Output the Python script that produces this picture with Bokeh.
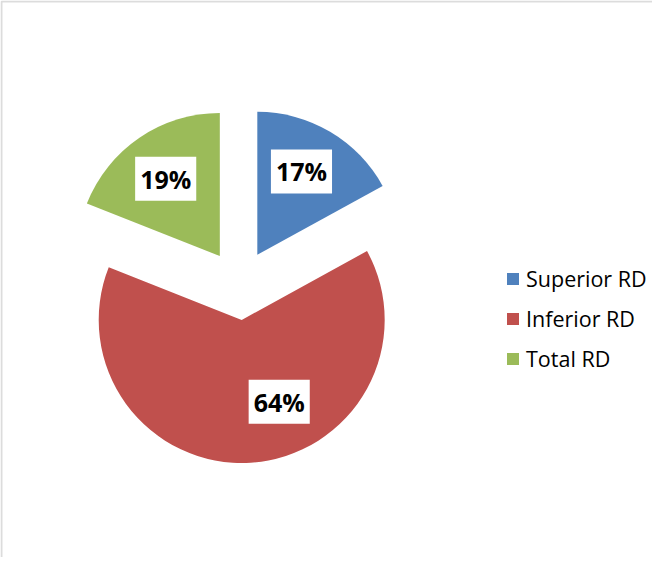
import math
from bokeh.plotting import figure
from bokeh.models import Range1d, Legend, LegendItem, ColumnDataSource, BoxAnnotation
from bokeh.core.properties import value
from bokeh.embed import file_html
from bokeh.resources import INLINE

# ---- data ----
categories = ["Superior RD", "Inferior RD", "Total RD"]
values = [17, 64, 19]
labels = ["17%", "64%", "19%"]
colors = ["#4F81BD", "#C0504D", "#9BBB59"]

# ---- layout / style ----
W, H = 652, 557
CX, CY = 239, 272.5     # pie centre (canvas px, y up)
R = 143                 # radius px
EXPLODE = 35            # explode distance px
label_frac = [0.66, 0.63, 0.66]
label_shift_deg = [-2.7, -21.0, -0.8]   # clockwise shift from slice mid-angle
FONT = "Open Sans"

total = float(sum(values))
starts, ends, cx, cy, lx, ly = [], [], [], [], [], []
cum = 0.0
for i, v in enumerate(values):
    a0 = math.pi / 2 - 2 * math.pi * cum / total
    cum += v
    a1 = math.pi / 2 - 2 * math.pi * cum / total
    mid = (a0 + a1) / 2
    x0 = CX + EXPLODE * math.cos(mid)
    y0 = CY + EXPLODE * math.sin(mid)
    starts.append(a0)
    ends.append(a1)
    cx.append(x0)
    cy.append(y0)
    la = mid - math.radians(label_shift_deg[i])
    lx.append(x0 + label_frac[i] * R * math.cos(la))
    ly.append(y0 + label_frac[i] * R * math.sin(la))

src = ColumnDataSource(dict(cat=categories, val=values, lbl=labels, color=colors,
                            start=starts, end=ends, cx=cx, cy=cy, lx=lx, ly=ly))

p = figure(width=W, height=H, output_backend="svg", toolbar_location=None,
           x_range=Range1d(0, W), y_range=Range1d(0, H), min_border=0)
p.axis.visible = False
p.grid.visible = False
p.outline_line_color = None
p.background_fill_color = "white"
p.border_fill_color = "white"

# chart area border (cut off at right/bottom like the reference)
p.add_layout(BoxAnnotation(left=1, right=W + 50, top=H - 1, bottom=-50,
                           fill_alpha=0, line_color="#8a8a8a", line_width=2))

r = p.wedge(x="cx", y="cy", radius=R, start_angle="start", end_angle="end",
            direction="clock", fill_color="color", line_color=None, source=src)

p.text(x="lx", y="ly", text="lbl", source=src, text_align="center",
       text_baseline="middle", text_font=value(FONT), text_font_style="bold",
       text_font_size="25px", text_color="black",
       background_fill_color="white", padding=(5, 5))

items = [LegendItem(label=categories[i], renderers=[r], index=i) for i in range(len(categories))]
legend = Legend(items=items, location=(505, 184), orientation="vertical",
                glyph_width=15, glyph_height=15, label_height=25, spacing=11,
                padding=0, margin=0, border_line_color=None, background_fill_alpha=0,
                label_text_font=FONT, label_text_font_size="21.5px",
                label_text_color="black", label_standoff=6)
p.add_layout(legend)

open("out.html", "w").write(file_html(p, INLINE))
